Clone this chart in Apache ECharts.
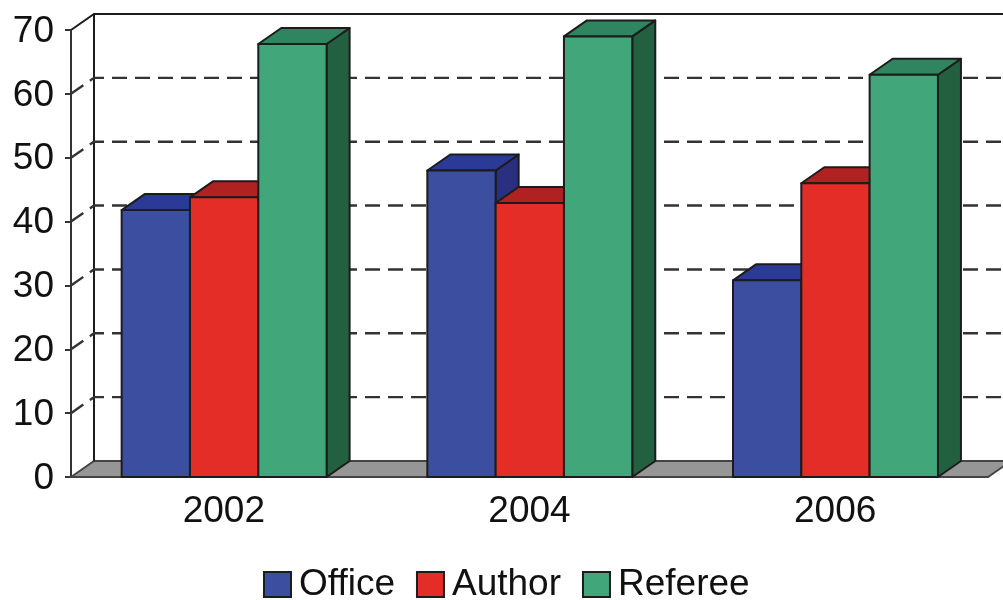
<!DOCTYPE html>
<html>
<head>
<meta charset="utf-8">
<style>html,body{margin:0;padding:0;background:#fff}#chart{width:1003px;height:600px}</style>
<script src="https://cdn.jsdelivr.net/npm/echarts@6/dist/echarts.min.js"></script>
</head>
<body>
<div id="chart"></div>
<script>
// Yearly counts per role, drawn as extruded columns inside a box-shaped plot.
const years = ['2002', '2004', '2006'];
const office = [41.8, 48, 30.8];
const author = [43.8, 42.9, 46];
const referee = [67.8, 69, 63];
const yTicks = [0, 10, 20, 30, 40, 50, 60, 70];

const DX = 23, DY = -16;              // extrusion offset toward the back wall
const BAR_RATIO = 0.2235;             // column width as a share of the category band
const INK = '#1c1c1c';
const FONT = 'Liberation Sans';

// One column: front face, top face and right side face.
function columnRenderer(slot, front, top, side) {
  return function (params, api) {
    const cat = api.value(0), val = api.value(1);
    const band = api.size([1, 0])[0];
    const w = band * BAR_RATIO;
    const c = api.coord([cat, val]);
    const base = api.coord([cat, 0]);
    const l = c[0] + (slot - 1.5) * w + 0.3, r = l + w, t = c[1], b = base[1];
    const stroke = { stroke: INK, lineWidth: 2, lineJoin: 'round' };
    return {
      type: 'group',
      children: [
        { type: 'polygon', shape: { points: [[r, b], [r + DX, b + DY], [r + DX, t + DY], [r, t]] },
          style: Object.assign({ fill: side }, stroke) },
        { type: 'polygon', shape: { points: [[l, t], [l + DX, t + DY], [r + DX, t + DY], [r, t]] },
          style: Object.assign({ fill: top }, stroke) },
        { type: 'rect', shape: { x: l, y: t, width: w, height: b - t },
          style: Object.assign({ fill: front }, stroke) }
      ]
    };
  };
}

// Floor, back wall edges and the gridlines wrapping from the side wall to the back wall.
function renderWalls(params, api) {
  const v = api.value(1);
  const cs = params.coordSys;
  const x0 = cs.x, x1 = cs.x + cs.width;
  const y = api.coord([0, v])[1];
  const edge = v === 0 || v === yTicks[yTicks.length - 1];
  const children = [];
  if (v === 0) {
    children.push({ type: 'polygon',
      shape: { points: [[x0, y], [x0 + DX, y + DY], [x1 + DX, y + DY], [x1, y]] },
      style: { fill: '#969696', stroke: '#444', lineWidth: 1.8 } });
    const top = api.coord([0, yTicks[yTicks.length - 1]])[1];
    children.push({ type: 'line',
      shape: { x1: x0 + DX, y1: y + DY, x2: x0 + DX, y2: top + DY },
      style: { stroke: INK, lineWidth: 2 } });
  } else {
    children.push({ type: 'polyline',
      shape: { points: [[x0, y], [x0 + DX, y + DY], [x1 + DX, y + DY]] },
      style: { fill: null, stroke: edge ? INK : '#333', lineWidth: edge ? 2 : 2.4,
               lineDash: edge ? null : [15, 8] } });
  }
  return { type: 'group', children };
}

const chart = echarts.init(document.getElementById('chart'), null, { renderer: 'canvas' });

const legendItem = (name, color) => ({
  name, icon: 'rect',
  itemStyle: { color, borderColor: INK, borderWidth: 2 }
});

chart.setOption({
  animation: false,
  backgroundColor: '#fff',
  grid: { left: 71, top: 30, width: 917, height: 447, containLabel: false },
  legend: {
    left: 263, top: 566, padding: 0, itemWidth: 27, itemHeight: 25, itemGap: 21, selectedMode: false,
    textStyle: { fontFamily: FONT, fontSize: 37, color: '#111', padding: [0, 0, 0, 3] },
    data: [legendItem('Office', '#3C4EA0'), legendItem('Author', '#E32D26'), legendItem('Referee', '#41A67A')]
  },
  xAxis: {
    type: 'category', data: years,
    axisLine: { onZero: false, lineStyle: { color: '#333', width: 2 } },
    axisTick: { length: 6, lineStyle: { color: '#333', width: 2 } },
    axisLabel: { margin: 16, fontFamily: FONT, fontSize: 37, color: '#111' },
    splitLine: { show: false }
  },
  yAxis: {
    type: 'value', min: 0, max: 70, interval: 10,
    axisLine: { show: true, lineStyle: { color: '#333', width: 2 } },
    axisTick: { show: true, length: 6, lineStyle: { color: '#333', width: 2 } },
    axisLabel: {
      margin: 17, formatter: '{v|{value}}',
      rich: { v: { fontFamily: FONT, fontSize: 37, color: '#111', padding: [3, 0, 0, 0] } }
    },
    splitLine: { show: false }
  },
  series: [
    { type: 'custom', name: 'walls', z: 1, silent: true, renderItem: renderWalls,
      encode: { x: 0, y: 1 }, data: yTicks.map(v => [0, v]) },
    { type: 'custom', name: 'Office', z: 3, renderItem: columnRenderer(0, '#3C4EA0', '#2B3A97', '#2A2F80'),
      itemStyle: { color: '#3C4EA0' }, encode: { x: 0, y: 1 }, data: office.map((v, i) => [i, v]) },
    { type: 'custom', name: 'Author', z: 4, renderItem: columnRenderer(1, '#E32D26', '#B02222', '#8E1C1C'),
      itemStyle: { color: '#E32D26' }, encode: { x: 0, y: 1 }, data: author.map((v, i) => [i, v]) },
    { type: 'custom', name: 'Referee', z: 5, renderItem: columnRenderer(2, '#41A67A', '#2F8560', '#226040'),
      itemStyle: { color: '#41A67A' }, encode: { x: 0, y: 1 }, data: referee.map((v, i) => [i, v]) }
  ]
});
</script>
</body>
</html>
